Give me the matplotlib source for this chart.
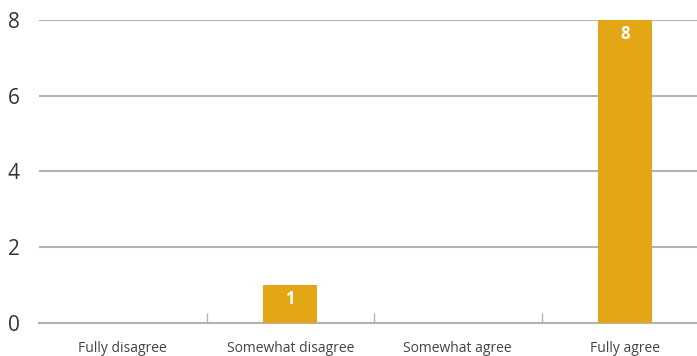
import matplotlib
matplotlib.use("Agg")
import matplotlib.pyplot as plt
from matplotlib.ticker import FixedLocator

categories = ["Fully disagree", "Somewhat disagree", "Somewhat agree", "Fully agree"]
counts = [0, 1, 0, 8]
y_ticks = [0, 2, 4, 6, 8]

bar_color = "#E3A615"
grid_color = "#B3B3B3"

plt.rcParams["font.family"] = ["Open Sans", "DejaVu Sans"]

fig = plt.figure(figsize=(6.97, 3.56), dpi=100)
ax = fig.add_axes([39 / 697, 33 / 356, 670 / 697, 303 / 356])

x = list(range(len(categories)))
bars = ax.bar(x, counts, width=0.32, color=bar_color, zorder=3)

for rect, v in zip(bars, counts):
    if v > 0:
        ax.text(rect.get_x() + rect.get_width() / 2, v - 0.12, str(v),
                ha="center", va="top", color="white", fontsize=12,
                fontweight="bold", zorder=4)

ax.set_xlim(-0.5, len(categories) - 0.5)
ax.set_ylim(0, 8)
ax.set_yticks(y_ticks)
ax.yaxis.grid(True, color=grid_color, linewidth=1.5, zorder=0)
ax.set_axisbelow(True)
ax.tick_params(axis="y", length=0, pad=14, labelsize=15, labelcolor="#333333")

ax.set_xticks(x)
ax.set_xticklabels(categories)
ax.tick_params(axis="x", which="major", length=0, pad=13, labelsize=10, labelcolor="#444444")
ax.xaxis.set_minor_locator(FixedLocator([0.5, 1.5, 2.5]))
ax.tick_params(axis="x", which="minor", direction="in", length=7.5, width=1, color=grid_color)

for side in ["top", "right", "left"]:
    ax.spines[side].set_visible(False)
ax.spines["bottom"].set_color(grid_color)
ax.spines["bottom"].set_linewidth(1.5)

fig.savefig("out.png", dpi=100)
